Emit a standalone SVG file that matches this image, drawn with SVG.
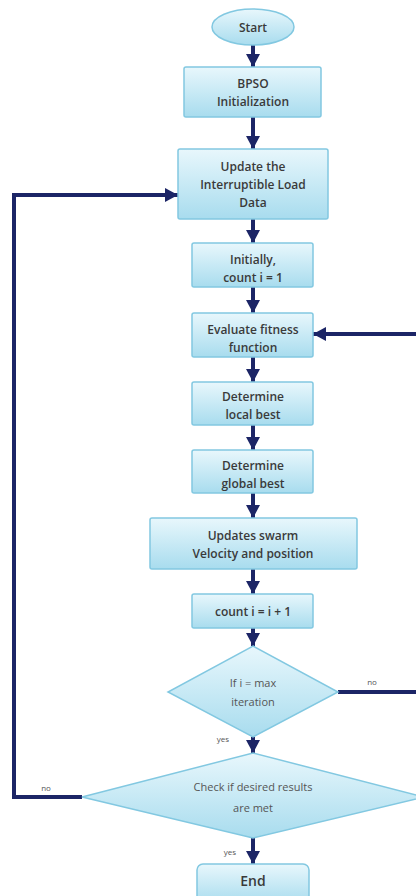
<svg xmlns="http://www.w3.org/2000/svg" width="416" height="896" viewBox="0 0 416 896">
<defs>
<linearGradient id="g" x1="0" y1="0" x2="0" y2="1">
<stop offset="0" stop-color="#e8f7fc"/>
<stop offset="1" stop-color="#a8dcee"/>
</linearGradient>
<marker id="ah" markerUnits="userSpaceOnUse" markerWidth="14" markerHeight="14" viewBox="0 0 14 14" refX="13" refY="7" orient="auto">
<path d="M0,0 L13,7 L0,14 Z" fill="#1c2566"/>
</marker>
<style>
.box{fill:url(#g);stroke:#82c8e1;stroke-width:1.5}
.t{font-family:"Open Sans","Liberation Sans",sans-serif;font-size:12px;font-weight:600;fill:#3a3a3a;text-anchor:middle}
.d{font-family:"Open Sans","Liberation Sans",sans-serif;font-size:11px;fill:#555;text-anchor:middle}
.l{font-family:"Open Sans","Liberation Sans",sans-serif;font-size:8px;fill:#555;text-anchor:middle}
.c{fill:none;stroke:#1c2566;stroke-width:4}
</style>
</defs>
<rect width="416" height="896" fill="#fff"/>
<g id="connectors">
<line class="c" x1="253" y1="45" x2="253" y2="67" marker-end="url(#ah)"/>
<line class="c" x1="253" y1="117" x2="253" y2="149" marker-end="url(#ah)"/>
<line class="c" x1="253" y1="219" x2="253" y2="243" marker-end="url(#ah)"/>
<line class="c" x1="253" y1="287" x2="253" y2="313" marker-end="url(#ah)"/>
<line class="c" x1="253" y1="357" x2="253" y2="382" marker-end="url(#ah)"/>
<line class="c" x1="253" y1="425" x2="253" y2="450" marker-end="url(#ah)"/>
<line class="c" x1="253" y1="493" x2="253" y2="518" marker-end="url(#ah)"/>
<line class="c" x1="253" y1="569" x2="253" y2="594" marker-end="url(#ah)"/>
<line class="c" x1="253" y1="628" x2="253" y2="646" marker-end="url(#ah)"/>
<line class="c" x1="253" y1="737" x2="253" y2="753" marker-end="url(#ah)"/>
<line class="c" x1="253" y1="838" x2="253" y2="864" marker-end="url(#ah)"/>
<polyline class="c" points="82,797 14,797 14,195 178,195" marker-end="url(#ah)"/>
<line class="c" x1="338" y1="692" x2="418" y2="692"/>
<line class="c" x1="418" y1="334" x2="313" y2="334" marker-end="url(#ah)"/>
<text class="l" x="372" y="685">no</text>
<text class="l" x="223" y="742">yes</text>
<text class="l" x="46" y="791">no</text>
<text class="l" x="230" y="855">yes</text>
</g>
<g id="start">
<ellipse class="box" cx="253" cy="27" rx="41" ry="18"/>
<text class="t" x="253" y="32">Start</text>
</g>
<g id="bpso">
<rect class="box" x="184" y="67" width="137" height="50" rx="2"/>
<text class="t" x="253" y="88">BPSO</text>
<text class="t" x="253" y="106">Initialization</text>
</g>
<g id="update">
<rect class="box" x="178" y="149" width="150" height="70" rx="2"/>
<text class="t" x="253" y="171">Update the</text>
<text class="t" x="253" y="189">Interruptible Load</text>
<text class="t" x="253" y="207">Data</text>
</g>
<g id="init">
<rect class="box" x="192" y="243" width="121" height="44" rx="2"/>
<text class="t" x="253" y="264">Initially,</text>
<text class="t" x="253" y="282">count i = 1</text>
</g>
<g id="evaluate">
<rect class="box" x="192" y="313" width="121" height="44" rx="2"/>
<text class="t" x="253" y="334">Evaluate fitness</text>
<text class="t" x="253" y="352">function</text>
</g>
<g id="local">
<rect class="box" x="192" y="382" width="121" height="43" rx="2"/>
<text class="t" x="253" y="401">Determine</text>
<text class="t" x="253" y="419">local best</text>
</g>
<g id="global">
<rect class="box" x="192" y="450" width="121" height="43" rx="2"/>
<text class="t" x="253" y="470">Determine</text>
<text class="t" x="253" y="488">global best</text>
</g>
<g id="swarm">
<rect class="box" x="150" y="518" width="207" height="51" rx="2"/>
<text class="t" x="253" y="540">Updates swarm</text>
<text class="t" x="253" y="558">Velocity and position</text>
</g>
<g id="count">
<rect class="box" x="192" y="594" width="121" height="34" rx="2"/>
<text class="t" x="253" y="616">count i = i + 1</text>
</g>
<g id="maxiter">
<polygon class="box" points="253,646 338,692 253,737 168,692"/>
<text class="d" x="253" y="687">If i = max</text>
<text class="d" x="253" y="706">iteration</text>
</g>
<g id="check">
<polygon class="box" points="253,753 424,797 253,838 82,797"/>
<text class="d" x="253" y="791">Check if desired results</text>
<text class="d" x="253" y="812">are met</text>
</g>
<g id="end">
<rect class="box" x="197" y="864" width="112" height="40" rx="6"/>
<text class="t" x="253" y="886" style="font-size:14px">End</text>
</g>
</svg>
